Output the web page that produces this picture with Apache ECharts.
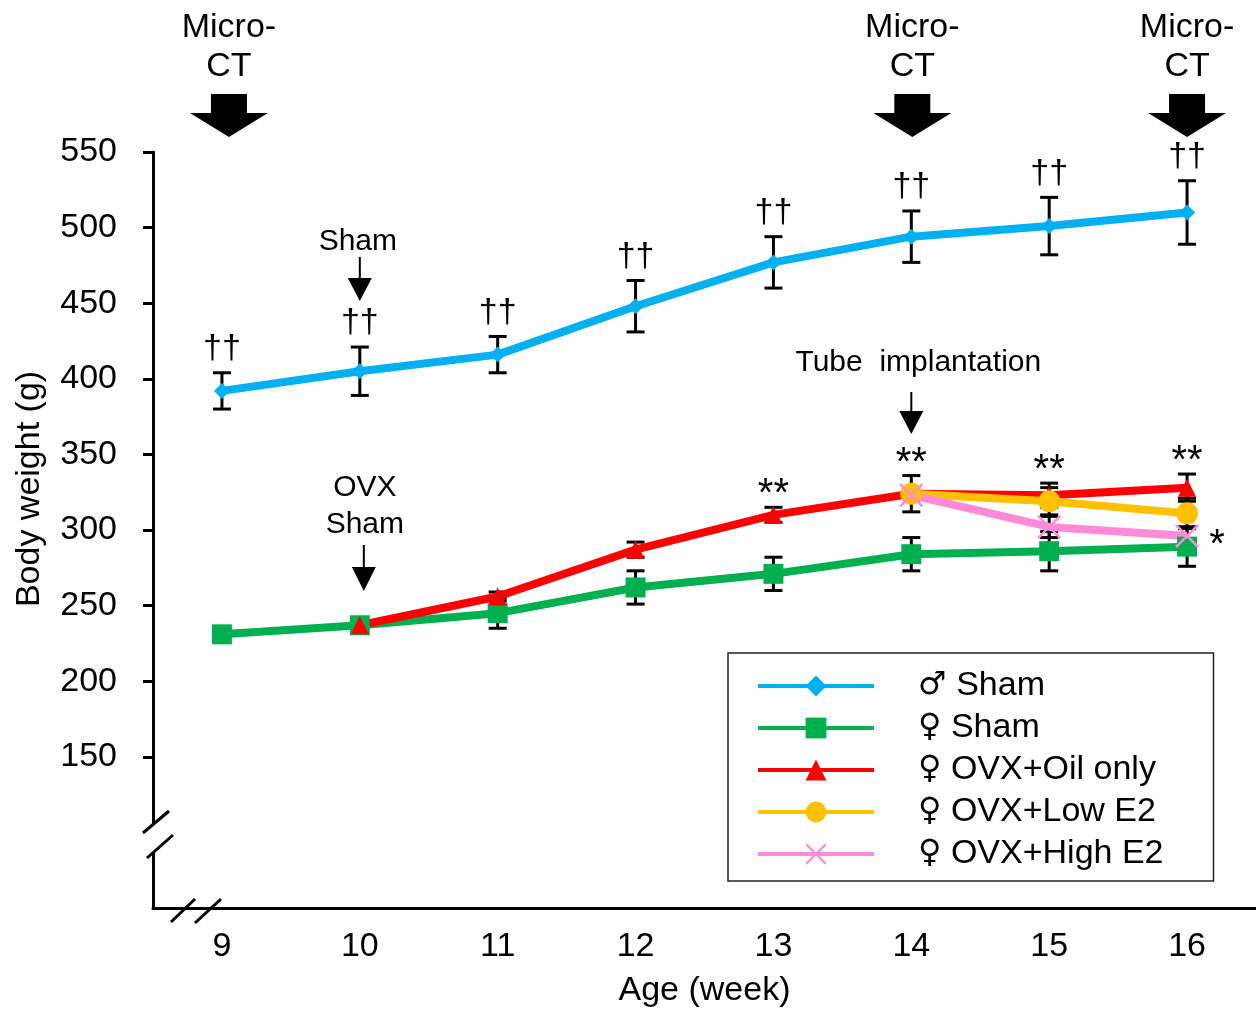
<!DOCTYPE html>
<html>
<head>
<meta charset="utf-8">
<script src="https://cdn.jsdelivr.net/npm/echarts@6/dist/echarts.min.js"></script>
<style>
html, body { margin: 0; padding: 0; background: #fff; }
#main { width: 1256px; height: 1010px; }
</style>
</head>
<body>
<div id="main"></div>
<script>
// weeks on x, body weight (g) on y
var weeks = ['9', '10', '11', '12', '13', '14', '15', '16'];
var yTicks = [150, 200, 250, 300, 350, 400, 450, 500, 550];

var maleSham    = [392, 405, 416, 448, 477, 494, 501, 510];
var maleShamErr = [12, 16, 12, 17, 17, 17, 19, 21];
var femSham     = [231, 237, 245, 262, 271, 284, 286, 289];
var femShamErr  = [2, 4, 10, 11, 11, 11, 13, 13];
var ovxOil      = [null, 237, 256, 287, 310, 324, 323, 328];
var ovxOilErr   = [null, 4, 3, 5, 5, 12, 8, 9];
var ovxLow      = [null, null, null, null, null, 324, 319, 311];
var ovxLowErr   = [null, null, null, null, null, 0, 9, 10];
var ovxHigh     = [null, null, null, null, null, 323, 302, 296];
var ovxHighErr  = [null, null, null, null, null, 0, 7, 6];

// significance marks per week
var maleMarks = ['††', '††', '††', '††', '††', '††', '††', '††'];
var oilMarks  = ['', '', '', '', '**', '**', '**', '**'];
var highMarks = ['', '', '', '', '', '', '', '*'];

var FONT = '"Liberation Sans", Arial, "DejaVu Sans", sans-serif';

var cBlue = '#00B0F0', cGreen = '#00B050', cRed = '#FF0000', cOrange = '#FFC000', cPink = '#FF8AD8';
var crossPath = 'path://M0,1.5 L1.5,0 L10,8.5 L18.5,0 L20,1.5 L11.5,10 L20,18.5 L18.5,20 L10,11.5 L1.5,20 L0,18.5 L8.5,10 Z';

function errData(vals, errs) {
    var d = [];
    for (var i = 0; i < vals.length; i++) {
        if (vals[i] != null) d.push([i, vals[i], errs[i] || 0]);
    }
    return d;
}

function errorBars(marks, side, dy, size) {
    return function (params, api) {
        var i = api.value(0), v = api.value(1), e = api.value(2);
        var c = api.coord([i, v]);
        var hi = api.coord([i, v + e]);
        var lo = api.coord([i, v - e]);
        var st = { stroke: '#000', lineWidth: 3 };
        var kids = [];
        if (e > 0) {
            kids.push({ type: 'line', shape: { x1: c[0], y1: hi[1], x2: c[0], y2: lo[1] }, style: st });
            kids.push({ type: 'line', shape: { x1: c[0] - 9, y1: hi[1], x2: c[0] + 9, y2: hi[1] }, style: st });
            kids.push({ type: 'line', shape: { x1: c[0] - 9, y1: lo[1], x2: c[0] + 9, y2: lo[1] }, style: st });
        }
        var m = marks && marks[i];
        if (m) {
            var tx = side === 'right' ? c[0] + 30 : c[0];
            var ty = side === 'right' ? c[1] + dy : hi[1] - dy;
            kids.push({
                type: 'text',
                style: { text: m, x: tx, y: ty, align: 'center', verticalAlign: 'middle',
                    font: size + 'px ' + FONT, fill: '#000' }
            });
        }
        return { type: 'group', children: kids };
    };
}

function lineSeries(name, data, color, symbol, size) {
    return {
        name: name, type: 'line', data: data, z: 3,
        symbol: symbol, symbolSize: size, showSymbol: true,
        lineStyle: { color: color, width: 8 },
        itemStyle: { color: color },
        emphasis: { disabled: true },
        animation: false
    };
}

function errSeries(name, vals, errs, marks, side, dy, size) {
    return {
        name: name, type: 'custom', z: 2, animation: false, silent: true,
        encode: { x: 0, y: 1 },
        renderItem: errorBars(marks, side, dy, size),
        data: errData(vals, errs)
    };
}

var names = ['\u2642 Sham', '\u2640 Sham', '\u2640 OVX+Oil only', '\u2640 OVX+Low E2', '\u2640 OVX+High E2'];

var chart = echarts.init(document.getElementById('main'));
chart.setOption({
    backgroundColor: '#fff',
    animation: false,
    grid: { left: 153, right: 0, top: 152, bottom: 102, containLabel: false, outerBoundsMode: 'none' },
    legend: {
        data: names,
        orient: 'vertical',
        left: 728, top: 653,
        padding: [16, 50, 10, 28],
        itemWidth: 116, itemHeight: 26, itemGap: 8,
        selectedMode: false,
        borderColor: '#222', borderWidth: 1.5,
        lineStyle: { width: 4 },
        formatter: function (name) {
            return '{s|' + name.charAt(0) + '} {t|' + name.slice(2) + '}';
        },
        textStyle: {
            fontFamily: FONT, fontSize: 34, color: '#000', lineHeight: 34, padding: [0, 0, 0, 39],
            rich: {
                s: { fontFamily: '"DejaVu Sans"', fontSize: 32, color: '#000', lineHeight: 34 },
                t: { fontFamily: FONT, fontSize: 34, color: '#000', lineHeight: 34 }
            }
        }
    },
    xAxis: {
        type: 'category', data: weeks, boundaryGap: true,
        axisLine: { lineStyle: { color: '#000', width: 3 } },
        axisTick: { alignWithLabel: true, length: 10, lineStyle: { color: '#000', width: 3 } },
        axisLabel: { fontFamily: FONT, fontSize: 34, color: '#000', margin: 22 },
        splitLine: { show: false },
        name: 'Age (week)', nameLocation: 'middle', nameGap: 66,
        nameTextStyle: { fontFamily: FONT, fontSize: 34, color: '#000' }
    },
    yAxis: {
        type: 'value', min: 50, max: 550, interval: 50,
        axisLine: { show: true, lineStyle: { color: '#000', width: 3 } },
        axisTick: { show: true, length: 10, customValues: yTicks, lineStyle: { color: '#000', width: 3 } },
        axisLabel: { fontFamily: FONT, fontSize: 34, color: '#000', margin: 36, customValues: yTicks },
        splitLine: { show: false }
    },
    series: [
        errSeries('e1', maleSham, maleShamErr, maleMarks, 'top', 24, 34),
        errSeries('e2', femSham, femShamErr, null, 'top', 0, 30),
        errSeries('e3', ovxOil, ovxOilErr, oilMarks, 'top', 12, 40),
        errSeries('e4', ovxLow, ovxLowErr, null, 'top', 0, 30),
        errSeries('e5', ovxHigh, ovxHighErr, highMarks, 'right', 10, 40),
        lineSeries(names[0], maleSham, cBlue, 'diamond', 16),
        lineSeries(names[1], femSham, cGreen, 'rect', 20),
        lineSeries(names[2], ovxOil, cRed, 'triangle', 18),
        lineSeries(names[3], ovxLow, cOrange, 'circle', 22),
        lineSeries(names[4], ovxHigh, cPink, crossPath, 24)
    ]
});

// annotations placed against the category axis
function px(w) { return chart.convertToPixel({ xAxisIndex: 0 }, w); }

function blockArrow(x) {
    return {
        type: 'polygon', z: 100,
        shape: { points: [[x - 18, 94], [x + 18, 94], [x + 18, 113], [x + 39, 113], [x, 137], [x - 39, 113], [x - 18, 113]] },
        style: { fill: '#000' }
    };
}
function thinArrow(x, y1, y2, y3) {
    return [
        { type: 'line', z: 100, shape: { x1: x, y1: y1, x2: x, y2: y2 + 1 }, style: { stroke: '#000', lineWidth: 2 } },
        { type: 'polygon', z: 100, shape: { points: [[x - 12, y2], [x + 12, y2], [x, y3]] }, style: { fill: '#000' } }
    ];
}
function label(text, x, y, size, lh) {
    return {
        type: 'text', z: 100, x: x, y: y,
        style: { text: text, align: 'center', verticalAlign: 'middle', font: size + 'px ' + FONT,
            fill: '#000', lineHeight: lh || size }
    };
}

var g = [];
[['9', 7], ['14', 1], ['16', 0]].forEach(function (m) {
    var x = px(m[0]) + m[1];
    g.push(label('Micro-\nCT', x, 47, 34, 39));
    g.push(blockArrow(x));
});
var x10 = px('10'), x14 = px('14');
g.push(label('Sham', x10 - 2, 242, 30));
g = g.concat(thinArrow(x10, 257, 278, 301));
g.push(label('OVX\nSham', x10 + 5, 506, 30, 37));
g = g.concat(thinArrow(x10 + 4, 545, 567, 591));
g.push(label('Tube  implantation', x14 + 7, 363, 30));
g = g.concat(thinArrow(x14, 392, 411, 434));
g.push({
    type: 'text', z: 100, x: 30, y: 489, rotation: Math.PI / 2,
    style: { text: 'Body weight (g)', align: 'center', verticalAlign: 'middle', font: '34px ' + FONT, fill: '#000' }
});
// axis breaks
g.push({ type: 'rect', z: 100, shape: { x: 147, y: 825, width: 12, height: 27 }, style: { fill: '#fff' } });
var brk = { stroke: '#000', lineWidth: 3 };
g.push({ type: 'line', z: 101, shape: { x1: 143, y1: 833, x2: 169, y2: 811 }, style: brk });
g.push({ type: 'line', z: 101, shape: { x1: 147, y1: 858, x2: 173, y2: 835 }, style: brk });
g.push({ type: 'line', z: 101, shape: { x1: 171, y1: 922, x2: 195, y2: 899 }, style: brk });
g.push({ type: 'line', z: 101, shape: { x1: 195, y1: 923, x2: 221, y2: 899 }, style: brk });

chart.setOption({ graphic: g });
</script>
</body>
</html>
